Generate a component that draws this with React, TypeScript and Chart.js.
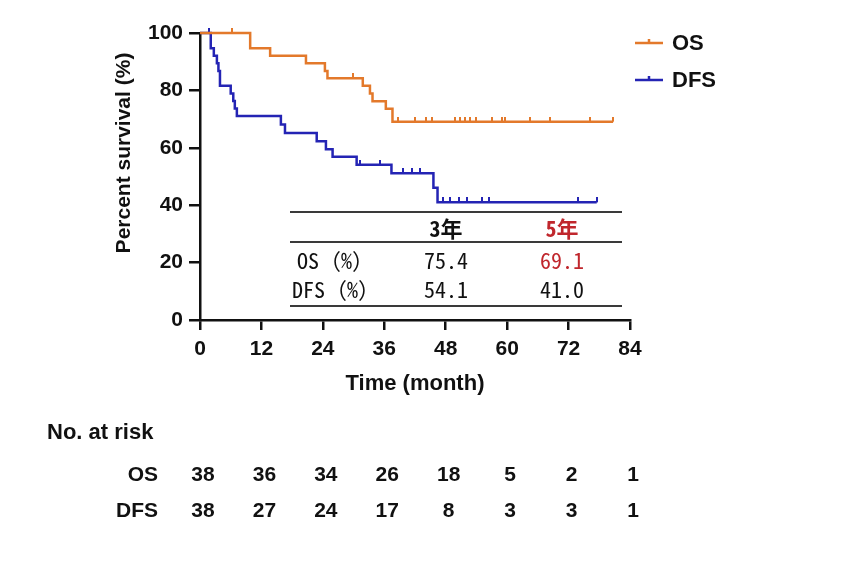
import React, { useEffect, useRef } from 'react';
import { Chart, registerables } from 'chart.js';

Chart.register(...registerables);

// ---- data ----
const timeTicks = [0, 12, 24, 36, 48, 60, 72, 84];
const riskOS = [38, 36, 34, 26, 18, 5, 2, 1];
const riskDFS = [38, 27, 24, 17, 8, 3, 3, 1];

const osTimes = [0, 9.8, 13.7, 20.7, 24.4, 24.9, 31.8, 33.2, 33.7, 36.3, 37.6, 80.7];
const osSurv = [100, 94.7, 92.1, 89.5, 86.8, 84.2, 81.6, 78.9, 76.2, 73.6, 69.1, 69.1];
const osCensorTimes = [6.3, 29.9, 38.7, 42.0, 44.1, 45.3, 49.8, 50.8, 51.8, 52.7, 54.0, 57.0, 58.9, 59.6, 64.5, 68.4, 76.2, 80.7];
const osCensorSurv = [100, 84.2, 69.1, 69.1, 69.1, 69.1, 69.1, 69.1, 69.1, 69.1, 69.1, 69.1, 69.1, 69.1, 69.1, 69.1, 69.1, 69.1];

const dfsTimes = [0, 2.1, 2.7, 3.3, 3.6, 3.9, 6.0, 6.5, 6.8, 7.2, 15.8, 16.6, 22.8, 24.6, 25.9, 30.6, 37.4, 45.6, 46.4, 77.5];
const dfsSurv = [100, 94.7, 92.1, 89.5, 86.8, 81.6, 78.9, 76.3, 73.7, 71.1, 68.1, 65.2, 62.3, 59.5, 56.9, 54.1, 51.1, 46.1, 41.0, 41.0];
const dfsCensorTimes = [1.7, 31.3, 35.2, 39.6, 41.4, 43.0, 47.5, 48.8, 50.5, 52.1, 55.0, 56.5, 73.9, 77.5];
const dfsCensorSurv = [100, 54.1, 54.1, 51.1, 51.1, 51.1, 41.0, 41.0, 41.0, 41.0, 41.0, 41.0, 41.0, 41.0];

const seriesNames = ['OS', 'DFS'];
const tableHeaders = ['3年', '5年'];
const tableRowLabels = ['OS（%）', 'DFS（%）'];
const tableOS = ['75.4', '69.1'];
const tableDFS = ['54.1', '41.0'];

// ---- styles ----
const OS_COLOR = '#E3792B';
const DFS_COLOR = '#2424B4';
const RED = '#C0272D';
const INK = '#111111';
const SANS = '"Liberation Sans", Arial, sans-serif';
const CJK = '"Noto Sans Mono CJK SC", "Noto Sans CJK SC", monospace';

function tickImage(color: string) {
  const c = document.createElement('canvas');
  c.width = 2;
  c.height = 10;
  const g = c.getContext('2d')!;
  g.fillStyle = color;
  g.fillRect(0, 0, 2, 5);
  return c;
}

function toXY(xs: number[], ys: number[]) {
  return xs.map((x, i) => ({ x, y: ys[i] }));
}

const overlayPlugin = {
  id: 'overlay',
  afterDraw(chart: any) {
    const ctx = chart.ctx as CanvasRenderingContext2D;
    const xs = chart.scales.x;
    ctx.save();

    // y axis title
    ctx.save();
    ctx.translate(124, 153);
    ctx.rotate(-Math.PI / 2);
    ctx.font = `bold 21px ${SANS}`;
    ctx.fillStyle = INK;
    ctx.textAlign = 'center';
    ctx.textBaseline = 'middle';
    ctx.fillText('Percent survival (%)', 0, 0);
    ctx.restore();

    // legend
    const legendColors = [OS_COLOR, DFS_COLOR];
    const legendY = [43, 80];
    seriesNames.forEach((name, i) => {
      const y = legendY[i];
      ctx.strokeStyle = legendColors[i];
      ctx.lineWidth = 2.5;
      ctx.beginPath();
      ctx.moveTo(635, y);
      ctx.lineTo(663, y);
      ctx.moveTo(649, y);
      ctx.lineTo(649, y - 4);
      ctx.stroke();
      ctx.font = `bold 22px ${SANS}`;
      ctx.fillStyle = INK;
      ctx.textAlign = 'left';
      ctx.textBaseline = 'middle';
      ctx.fillText(name, 672, y + 1);
    });

    // inner table
    ctx.strokeStyle = '#3a3a3a';
    ctx.lineWidth = 2;
    [212, 242, 306].forEach((y) => {
      ctx.beginPath();
      ctx.moveTo(290, y);
      ctx.lineTo(622, y);
      ctx.stroke();
    });
    const colX = [446, 562];
    ctx.textBaseline = 'middle';
    ctx.textAlign = 'center';
    ctx.font = `bold 22px ${CJK}`;
    tableHeaders.forEach((h, i) => {
      ctx.fillStyle = i === 1 ? RED : INK;
      ctx.fillText(h, colX[i], 229);
    });
    ctx.font = `500 22px ${CJK}`;
    ctx.textAlign = 'left';
    ctx.fillStyle = INK;
    ctx.fillText(tableRowLabels[0], 297, 261);
    ctx.fillText(tableRowLabels[1], 292, 290);
    ctx.textAlign = 'center';
    tableOS.forEach((v, i) => {
      ctx.fillStyle = i === 1 ? RED : INK;
      ctx.fillText(v, colX[i], 261);
    });
    tableDFS.forEach((v, i) => {
      ctx.fillStyle = INK;
      ctx.fillText(v, colX[i], 290);
    });

    // risk table
    ctx.fillStyle = INK;
    ctx.font = `bold 22px ${SANS}`;
    ctx.textAlign = 'left';
    ctx.fillText('No. at risk', 47, 433);
    ctx.textAlign = 'right';
    ctx.font = `bold 21px ${SANS}`;
    ctx.fillText(seriesNames[0], 158, 475);
    ctx.fillText(seriesNames[1], 158, 511);
    ctx.textAlign = 'center';
    timeTicks.forEach((t, i) => {
      const px = xs.getPixelForValue(t) + 3;
      ctx.fillText(String(riskOS[i]), px, 475);
      ctx.fillText(String(riskDFS[i]), px, 511);
    });

    ctx.restore();
  },
};

export default function App() {
  const ref = useRef<HTMLCanvasElement>(null);

  useEffect(() => {
    const canvas = ref.current!;
    const font = (size: number) => ({ family: SANS, size, weight: 'bold' as const });
    const chart = new Chart(canvas, {
      type: 'line',
      data: {
        datasets: [
          {
            label: 'OS',
            data: toXY(osTimes, osSurv),
            borderColor: OS_COLOR,
            borderWidth: 2.5,
            stepped: 'before',
            pointRadius: 0,
            fill: false,
            clip: false,
          },
          {
            label: 'DFS',
            data: toXY(dfsTimes, dfsSurv),
            borderColor: DFS_COLOR,
            borderWidth: 2.5,
            stepped: 'before',
            pointRadius: 0,
            fill: false,
            clip: false,
          },
          {
            label: 'OS censored',
            data: toXY(osCensorTimes, osCensorSurv),
            showLine: false,
            pointStyle: tickImage(OS_COLOR) as any,
            pointRadius: 3,
            clip: false,
          },
          {
            label: 'DFS censored',
            data: toXY(dfsCensorTimes, dfsCensorSurv),
            showLine: false,
            pointStyle: tickImage(DFS_COLOR) as any,
            pointRadius: 3,
            clip: false,
          },
        ] as any,
      },
      options: {
        responsive: false,
        animation: false,
        devicePixelRatio: 1,
        events: [],
        layout: { padding: { left: 0, right: 226, top: 33, bottom: 173 } },
        plugins: {
          legend: { display: false },
          tooltip: { enabled: false },
        },
        scales: {
          x: {
            type: 'linear',
            min: 0,
            max: 84,
            afterBuildTicks: (s: any) => {
              s.ticks = timeTicks.map((v) => ({ value: v }));
            },
            ticks: { font: font(21), color: INK, padding: 7, maxRotation: 0, autoSkip: false },
            grid: { drawOnChartArea: false, drawTicks: true, tickLength: 10, color: INK, lineWidth: 2.5 },
            border: { display: true, color: INK, width: 2.5 },
            title: {
              display: true,
              text: 'Time (month)',
              font: font(22),
              color: INK,
              padding: { top: 0, bottom: 3 },
            },
            afterFit: (s: any) => {
              s.height = 80;
            },
          },
          y: {
            type: 'linear',
            min: 0,
            max: 100,
            ticks: { stepSize: 20, font: font(21), color: INK, padding: 6 },
            grid: { drawOnChartArea: false, drawTicks: true, tickLength: 11, color: INK, lineWidth: 2.5 },
            border: { display: true, color: INK, width: 2.5 },
            afterFit: (s: any) => {
              s.width = 200;
            },
          },
        },
      } as any,
      plugins: [overlayPlugin],
    });
    return () => chart.destroy();
  }, []);

  return (
    <div style={{ position: 'absolute', left: 0, top: 0, width: 856, height: 573, background: '#fff' }}>
      <canvas ref={ref} width={856} height={573} style={{ display: 'block' }} />
    </div>
  );
}
